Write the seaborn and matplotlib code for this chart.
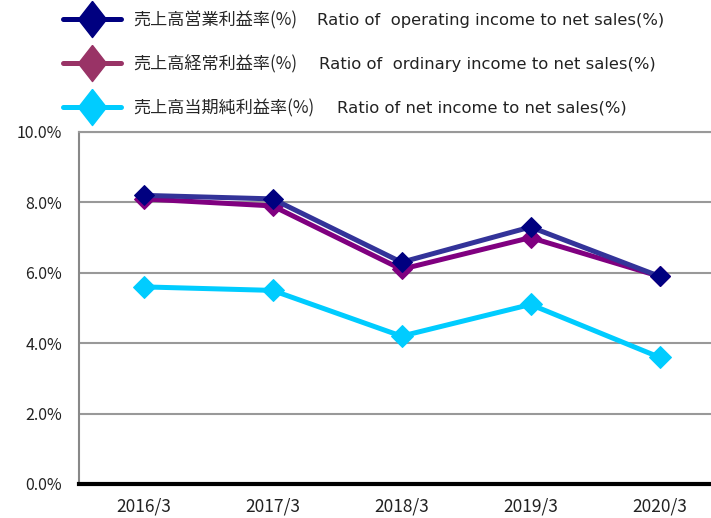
import pandas as pd
import seaborn as sns
import matplotlib.pyplot as plt
from matplotlib.lines import Line2D
from matplotlib.ticker import FuncFormatter

# data
years = ["2016/3", "2017/3", "2018/3", "2019/3", "2020/3"]
operating = [8.2, 8.1, 6.3, 7.3, 5.9]
ordinary = [8.1, 7.9, 6.1, 7.0, 5.9]
net = [5.6, 5.5, 4.2, 5.1, 3.6]

labels_ja = ["売上高営業利益率(%)", "売上高経常利益率(%)", "売上高当期純利益率(%)"]
labels_en = ["Ratio of  operating income to net sales(%)",
             "Ratio of  ordinary income to net sales(%)",
             "Ratio of net income to net sales(%)"]

sns.set_style("white")
plt.rcParams['font.family'] = ['Noto Sans CJK JP', 'DejaVu Sans']

df = pd.DataFrame({"year": years, "operating": operating,
                   "ordinary": ordinary, "net": net})

fig = plt.figure(figsize=(7.11, 5.18), dpi=100)
# plot area runs past the right edge of the picture, like the original
ax = fig.add_axes([79 / 711, 34 / 518, 645 / 711, 352 / 518])

# series: (column, line colour, marker colour, marker size)
series = [
    ("net", "#00CCFF", "#00CCFF", 11.5),
    ("ordinary", "#800080", "#800080", 10.5),
    ("operating", "#333399", "#000080", 10.5),
]
for col, lc, mc, ms in series:
    sns.lineplot(data=df, x="year", y=col, ax=ax, color=lc, linewidth=3.6,
                 marker="D", markersize=ms, markerfacecolor=mc,
                 markeredgecolor=mc, sort=False)

ax.set_xlim(-0.5, 4.5)
ax.set_ylim(0, 10)
ax.set_yticks([0, 2, 4, 6, 8, 10])
ax.yaxis.set_major_formatter(FuncFormatter(lambda v, p: f"{v:.1f}%"))
ax.set_xlabel("")
ax.set_ylabel("")
ax.grid(axis="y", color="#999999", linewidth=1.5)
ax.set_axisbelow(True)
ax.tick_params(axis="y", length=0, labelsize=11.5, colors="#222222", pad=12)
ax.tick_params(axis="x", length=0, labelsize=12.5, colors="#222222", pad=10)

ax.spines["right"].set_visible(False)
ax.spines["top"].set_color("#999999")
ax.spines["top"].set_linewidth(1.5)
ax.spines["left"].set_color("#888888")
ax.spines["left"].set_linewidth(1.5)
ax.spines["bottom"].set_color("black")
ax.spines["bottom"].set_linewidth(3)

# legend: tall diamonds on a line, Japanese label, English text beside it
tall_diamond = [(0, 1), (0.78, 0), (0, -1), (-0.78, 0), (0, 1)]
handle_colors = ["#000080", "#993366", "#00CCFF"]
handles = [Line2D([], [], color=c, linewidth=3.6, marker=tall_diamond,
                  markersize=26, markerfacecolor=c, markeredgecolor=c)
           for c in handle_colors]
fs = 12.3
leg = fig.legend(handles, labels_ja, loc="upper left",
                 bbox_to_anchor=(52 / 711, 1.0), frameon=False, fontsize=fs,
                 handlelength=3.4, handletextpad=0.7, labelspacing=1.5,
                 borderaxespad=0.35, borderpad=0.3)

fig.canvas.draw()
en_x = [317, 319, 337]
for t, txt, x in zip(leg.get_texts(), labels_en, en_x):
    bb = t.get_window_extent()
    yc = (bb.y0 + bb.y1) / 2 / fig.bbox.height
    fig.text(x / 711, yc, txt, fontsize=11.8, va="center", ha="left",
             family=["DejaVu Sans"], color="#222222")

fig.savefig("out.png", dpi=100)
